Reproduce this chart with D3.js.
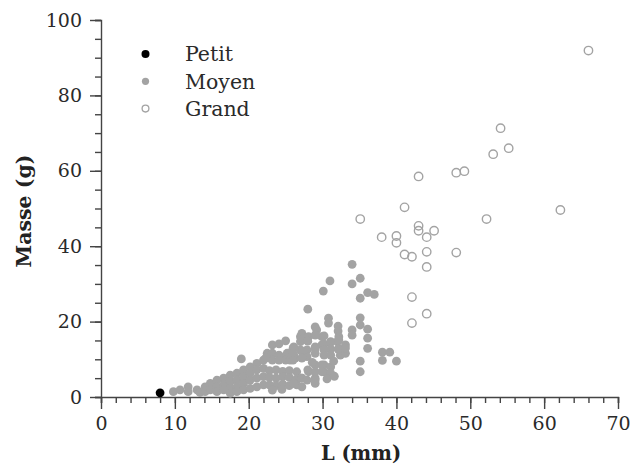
<!DOCTYPE html>
<html><head><meta charset="utf-8">
<script src="https://cdn.jsdelivr.net/npm/d3@7"></script>
<style>body{margin:0;background:#fff}svg text{font-family:"DejaVu Serif",serif}</style>
</head><body>
<svg id="c" width="632" height="465"></svg>
<script>
const xTicks = [0,10,20,30,40,50,60,70];
const yTicks = [0,20,40,60,80,100];
const seriesNames = ["Petit","Moyen","Grand"];

const petit = [[8.0,1.1]];

const moyen = [
[9.8,1.4],[10.7,1.9],[11.8,2.7],[11.8,1.4],[13.0,1.9],[13.4,1.2],[14.1,2.7],[14.1,1.4],[14.8,3.6],[14.8,1.9],
[15.7,4.5],[15.7,2.7],[15.7,1.4],[16.6,5.0],[16.6,3.2],[16.6,1.9],[17.5,5.8],[17.5,4.1],[17.5,2.3],[17.5,1.0],
[18.4,6.3],[18.4,4.5],[18.4,2.7],[18.4,1.4],[19.3,7.2],[19.3,5.4],[19.3,3.6],[19.3,1.9],[19.0,10.1],[20.2,8.0],
[20.2,6.3],[20.2,4.5],[20.2,2.3],[21.1,8.9],[21.1,7.2],[21.1,5.0],[21.1,2.7],[22.0,9.8],[22.0,7.6],[22.0,5.4],
[22.0,3.2],[22.5,11.6],[22.9,10.3],[23.2,13.8],[24.1,14.1],[25.0,14.9],[23.2,11.6],[24.1,11.1],[25.0,10.7],[26.1,13.3],
[26.1,11.1],[27.0,16.0],[27.0,14.7],[27.9,15.1],[27.0,12.5],[27.9,12.5],[27.9,10.7],[25.2,11.6],[26.3,10.3],[23.2,9.8],
[24.1,9.8],[25.0,9.8],[25.6,9.8],[22.3,10.3],[22.8,7.0],[23.7,7.2],[24.6,6.8],[25.5,7.0],[26.5,6.7],[22.8,5.2],
[23.7,5.0],[24.6,5.4],[25.5,5.2],[26.5,4.8],[27.2,5.0],[22.8,3.2],[23.7,3.0],[24.6,3.4],[25.5,3.0],[26.5,3.2],
[27.2,2.7],[23.2,1.8],[24.5,2.0],[26.1,3.6],[28.0,23.3],[29.0,18.6],[30.8,20.9],[30.8,19.6],[29.2,17.8],[27.2,16.9],
[27.2,15.3],[28.1,16.0],[29.9,16.0],[29.9,13.8],[31.1,14.7],[32.0,14.7],[29.0,13.3],[29.0,11.6],[32.2,12.9],[32.4,11.1],
[34.0,35.2],[31.0,30.8],[30.1,28.1],[34.0,30.0],[35.1,31.5],[35.1,26.2],[36.1,27.7],[37.0,27.2],[32.1,18.8],[32.1,17.5],
[35.1,21.0],[35.1,19.1],[34.0,17.8],[34.0,16.4],[36.1,18.0],[36.1,15.6],[36.1,12.9],[28.0,14.8],[29.0,16.4],[30.2,16.2],
[26.0,12.9],[26.0,11.6],[26.0,9.8],[27.2,12.0],[27.2,10.3],[29.0,12.7],[30.2,14.0],[30.2,12.5],[30.2,11.1],[31.1,14.5],
[31.1,12.7],[31.1,11.1],[32.1,12.7],[33.1,13.8],[33.1,11.6],[28.1,6.7],[30.2,8.5],[30.2,6.7],[31.1,8.0],[31.1,6.3],
[29.0,5.0],[29.0,3.6],[27.2,5.0],[35.1,9.5],[35.1,6.7],[38.1,11.9],[39.1,11.9],[38.1,9.7],[40.0,9.5],[29.0,8.5],
[29.9,8.5],[29.9,6.7],[29.0,6.7],[27.9,4.5],[29.0,4.5],[28.0,7.2],[32.2,16.0],[32.2,15.1],[33.1,13.0],[31.5,9.5],
[28.6,9.2],[30.6,4.8],[31.6,5.5]
];

const grand = [
[66.0,91.9],[54.1,71.3],[55.2,66.0],[53.1,64.4],[43.0,58.5],[48.1,59.5],[49.2,59.9],[41.1,50.3],[62.2,49.6],[35.1,47.2],
[52.2,47.2],[38.0,42.4],[40.0,42.7],[40.0,40.9],[43.0,45.4],[43.0,44.1],[45.1,44.1],[44.1,42.4],[41.1,37.8],[42.1,37.2],
[44.1,38.5],[48.1,38.3],[44.1,34.5],[42.1,26.5],[44.1,22.1],[42.1,19.6]
];

const svg = d3.select("#c");
const x = d3.scaleLinear().domain([0,70]).range([101,618]);
const y = d3.scaleLinear().domain([0,100]).range([397,20]);
const axisColor = "#444";
const textColor = "#2a2a2a";
const gray = "#a3a3a3";

// x axis
const gx = svg.append("g").attr("transform","translate(0,397)");
gx.call(d3.axisBottom(x).tickValues(d3.range(0,71,2)).tickSize(6).tickFormat(""));
gx.selectAll("path,line").attr("stroke",axisColor).attr("stroke-width",1.4);
const gx2 = svg.append("g").attr("transform","translate(0,397)");
gx2.call(d3.axisBottom(x).tickValues(xTicks).tickSize(12).tickPadding(8).tickFormat(d3.format("d")));
gx2.select(".domain").remove();
gx2.selectAll("line").attr("stroke",axisColor).attr("stroke-width",1.4);
gx2.selectAll("text").attr("font-size",19).attr("fill",textColor).attr("font-family","DejaVu Serif");

// y axis
const gy = svg.append("g").attr("transform","translate(101,0)");
gy.call(d3.axisLeft(y).tickValues(d3.range(0,101,5)).tickSize(6).tickFormat(""));
gy.selectAll("path,line").attr("stroke",axisColor).attr("stroke-width",1.4);
const gy2 = svg.append("g").attr("transform","translate(101,0)");
gy2.call(d3.axisLeft(y).tickValues(yTicks).tickSize(11).tickPadding(8).tickFormat(d3.format("d")));
gy2.select(".domain").remove();
gy2.selectAll("line").attr("stroke",axisColor).attr("stroke-width",1.4);
gy2.selectAll("text").attr("font-size",19).attr("fill",textColor).attr("font-family","DejaVu Serif");

// points
svg.append("g").selectAll("circle").data(moyen).join("circle")
  .attr("cx",d=>x(d[0])).attr("cy",d=>y(d[1])).attr("r",4.4).attr("fill",gray);
svg.append("g").selectAll("circle").data(grand).join("circle")
  .attr("cx",d=>x(d[0])).attr("cy",d=>y(d[1])).attr("r",4.2)
  .attr("fill","none").attr("stroke",gray).attr("stroke-width",1.4);
svg.append("g").selectAll("circle").data(petit).join("circle")
  .attr("cx",d=>x(d[0])).attr("cy",d=>y(d[1])).attr("r",4.4).attr("fill","#000");

// legend
const leg = svg.append("g");
const legStyles = [
  {fill:"#000",stroke:"none",r:4},
  {fill:gray,stroke:"none",r:3.6},
  {fill:"none",stroke:gray,r:3.4}
];
seriesNames.forEach((n,i)=>{
  const cy = 54 + i*27.3;
  leg.append("circle").attr("cx",145.5).attr("cy",cy).attr("r",legStyles[i].r)
    .attr("fill",legStyles[i].fill).attr("stroke",legStyles[i].stroke).attr("stroke-width",1.3);
  leg.append("text").attr("x",185).attr("y",cy).attr("dy","0.36em")
    .attr("font-size",20.5).attr("fill",textColor).text(n);
});

// axis titles
svg.append("text").attr("x",361).attr("y",460).attr("text-anchor","middle")
  .attr("font-size",19.5).attr("font-weight","bold").attr("fill","#222").text("L (mm)");
svg.append("text").attr("transform","translate(30.5,211) rotate(-90)").attr("text-anchor","middle")
  .attr("font-size",20.5).attr("font-weight","bold").attr("fill","#222").text("Masse (g)");
</script>
</body></html>
